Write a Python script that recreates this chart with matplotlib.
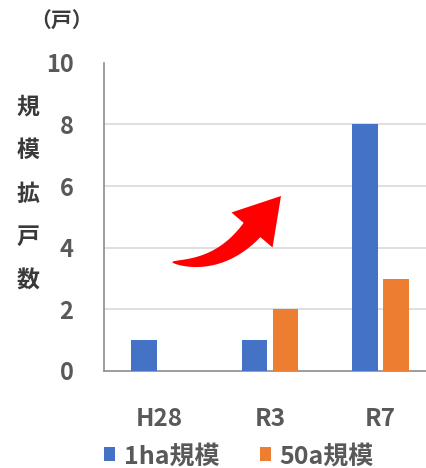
import matplotlib
matplotlib.use("Agg")
import matplotlib.pyplot as plt
import numpy as np
from matplotlib.patches import Patch, Polygon

plt.rcParams['font.family'] = ['Noto Sans CJK JP', 'DejaVu Sans']

categories = ["H28", "R3", "R7"]
series_names = ["1ha規模", "50a規模"]
values_1ha = [1, 1, 8]
values_50a = [0, 2, 3]
yticks = [0, 2, 4, 6, 8, 10]
colors = ["#4472C4", "#ED7D31"]
text_color = "#595959"

W, H = 427, 468
fig = plt.figure(figsize=(W/100, H/100), dpi=100)
ax = fig.add_axes([104/W, 97/H, 1 - 104/W, 308.3/H])

x = np.arange(len(categories))
w = 0.23
off = 0.14
ax.bar(x - off, values_1ha, width=w, color=colors[0], zorder=3)
ax.bar(x + off, [v if v > 0 else np.nan for v in values_50a], width=w, color=colors[1], zorder=3)

ax.set_xlim(-0.5, 2.42)
ax.set_ylim(0, 10)
ax.set_yticks(yticks)
ax.set_yticklabels([str(t) for t in yticks], fontsize=17, fontweight='bold', color=text_color)
ax.set_xticks(x)
ax.set_xticklabels(categories, fontsize=17.5, fontweight='bold', color=text_color)
ax.tick_params(axis='y', length=0, pad=22)
ax.tick_params(axis='x', length=0, pad=26)

for yv in [2, 4, 6, 8]:
    ax.axhline(yv, color="#D9D9D9", lw=1.2, zorder=1)

for s in ['top', 'right']:
    ax.spines[s].set_visible(False)
for s in ['left', 'bottom']:
    ax.spines[s].set_color("#8C8C8C")
    ax.spines[s].set_linewidth(1.2)

# vertical y-axis label
label = "規模拡戸数"
for i, ch in enumerate(label):
    fig.text(28/W, 1 - (107 + i*43.5)/H, ch, fontsize=16.5, fontweight='bold',
             color="#3A3A3A", ha='center', va='center')
fig.text(62/W, 1 - 21/H, "（戸）", fontsize=15, fontweight='bold',
         color="#3A3A3A", ha='center', va='center')

# red curved arrow (decoration), built in pixel space
P0 = np.array([172.0, 262.0])
P2 = np.array([252.0, 230.0])
tip = np.array([281.0, 196.0])
d = (tip - P2) / np.linalg.norm(tip - P2)
P1 = P2 - d * 50
t = np.linspace(0, 1, 60)[:, None]
c = (1 - t)**2 * P0 + 2 * (1 - t) * t * P1 + t**2 * P2
dc = 2 * (1 - t) * (P1 - P0) + 2 * t * (P2 - P1)
dc = dc / np.linalg.norm(dc, axis=1)[:, None]
nrm = np.column_stack([dc[:, 1], -dc[:, 0]])
width = 22 * t[:, 0]**0.6
left = c + nrm * (width[:, None] / 2)
right = c - nrm * (width[:, None] / 2)
perp = np.array([d[1], -d[0]])
hb1 = P2 + perp * 27
hb2 = P2 - perp * 27
pts = np.vstack([right, hb2, tip, hb1, left[::-1]])
pts_fig = np.column_stack([pts[:, 0] / W, 1 - pts[:, 1] / H])
fig.patches.append(Polygon(pts_fig, closed=True, transform=fig.transFigure,
                           facecolor="#FF0000", edgecolor="none", zorder=5))

handles = [Patch(facecolor=colors[0]), Patch(facecolor=colors[1])]
leg = fig.legend(handles, series_names, loc='center', bbox_to_anchor=(0.56, 1 - 456/H),
                 ncol=2, frameon=False, handlelength=0.45, handleheight=0.45,
                 handletextpad=0.35, columnspacing=1.6,
                 prop={'size': 18, 'weight': 'bold'})
for tx in leg.get_texts():
    tx.set_color(text_color)

fig.savefig("out.png", dpi=100)
